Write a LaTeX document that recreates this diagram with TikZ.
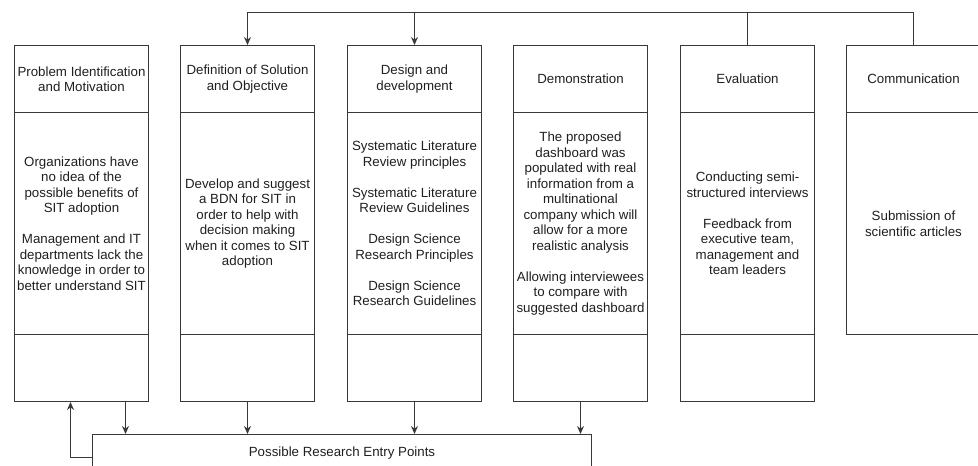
\documentclass[tikz,border=0pt]{standalone}
\usepackage{fontspec}
\setmainfont{Liberation Sans}
\usetikzlibrary{arrows.meta}
\begin{document}
\begin{tikzpicture}[x=1pt,y=-1pt,
  txt/.style={font=\fontsize{13.3}{15.5}\selectfont, text=black!88, align=center},
  cell/.style={draw=black!78, line width=1pt, txt, anchor=north west, minimum width=134pt, inner sep=1pt},
  head/.style={cell, minimum height=67pt},
  body/.style={cell, minimum height=222pt},
  foot/.style={cell, minimum height=67pt},
  arr/.style={draw=black!78, line width=1pt, -{Stealth[length=8pt,width=7pt]}}]
\useasboundingbox (0,0) rectangle (978,466);

% column 1
\node[head] (h1) at (14,45) {Problem Identification\\and Motivation};
\node[body] (b1) at (14,112) {Organizations have\\no idea of the\\possible benefits of\\SIT adoption\\[15.5pt]Management and IT\\departments lack the\\knowledge in order to\\better understand SIT};
\node[foot] (f1) at (14,334) {};
% column 2
\node[head] (h2) at (180,45) {Definition of Solution\\and Objective};
\node[body] (b2) at (180,112) {Develop and suggest\\a BDN for SIT in\\order to help with\\decision making\\when it comes to SIT\\adoption};
\node[foot] (f2) at (180,334) {};
% column 3
\node[head] (h3) at (347,45) {Design and\\development};
\node[body] (b3) at (347,112) {Systematic Literature\\Review principles\\[15.5pt]Systematic Literature\\Review Guidelines\\[15.5pt]Design Science\\Research Principles\\[15.5pt]Design Science\\Research Guidelines};
\node[foot] (f3) at (347,334) {};
% column 4
\node[head] (h4) at (513,45) {Demonstration};
\node[body] (b4) at (513,112) {The proposed\\dashboard was\\populated with real\\information from a\\multinational\\company which will\\allow for a more\\realistic analysis\\[15.5pt]Allowing interviewees\\to compare with\\suggested dashboard};
\node[foot] (f4) at (513,334) {};
% column 5
\node[head] (h5) at (680,45) {Evaluation};
\node[body] (b5) at (680,112) {Conducting semi-\\structured interviews\\[15.5pt]Feedback from\\executive team,\\management and\\team leaders};
\node[foot] (f5) at (680,334) {};
% column 6
\node[head] (h6) at (846,45) {Communication};
\node[body] (b6) at (846,112) {Submission of\\scientific articles};

% entry points
\node[cell, minimum width=499pt, inner sep=0pt, text height=21.5pt, text depth=24.5pt] (entry) at (92,434) {Possible Research Entry Points};

% top feedback lines
\coordinate (topline) at (0,12);
\draw[arr] (h6.north) -- (h6.north |- topline) -- (h2.north |- topline) -- (h2.north);
\draw[arr] (h5.north) -- (h5.north |- topline) -- (h3.north |- topline) -- (h3.north);

% bottom arrows
\draw[arr] ([xshift=44pt]f1.south) -- ([xshift=44pt]f1.south |- entry.north);
\draw[arr] (f2.south) -- (f2.south |- entry.north);
\draw[arr] (f3.south) -- (f3.south |- entry.north);
\draw[arr] (f4.south) -- (f4.south |- entry.north);
\draw[arr] (entry.west) -| ([xshift=-11pt]f1.south);
\end{tikzpicture}
\end{document}
